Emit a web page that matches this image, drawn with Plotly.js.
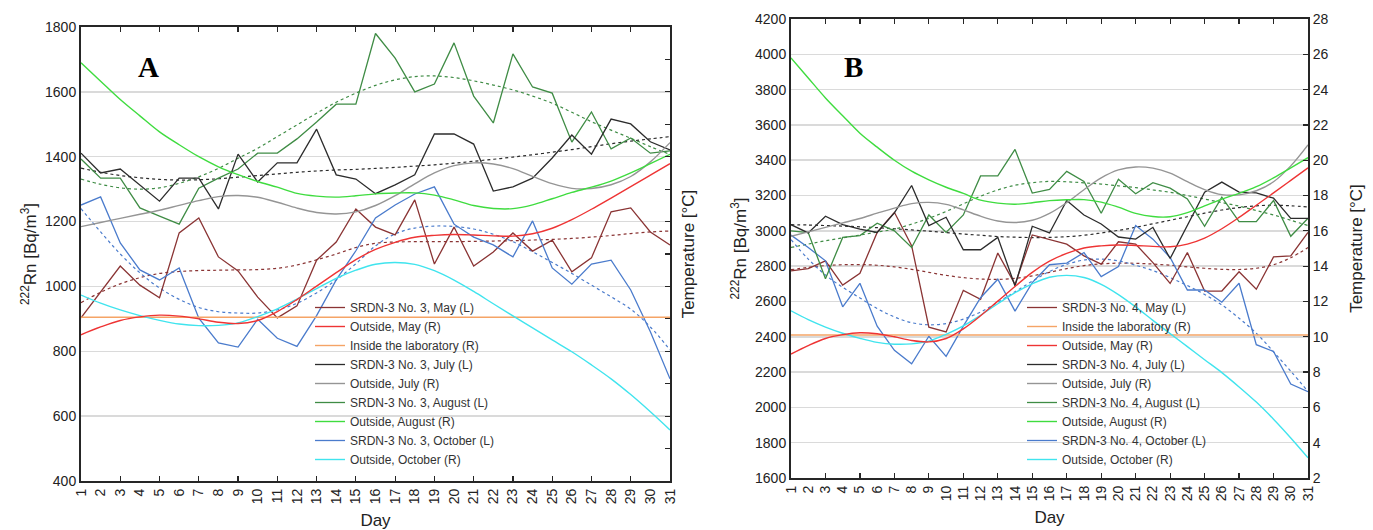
<!DOCTYPE html>
<html>
<head>
<meta charset="utf-8">
<script src="https://cdn.plot.ly/plotly-3.0.1.min.js"></script>
<style>
  html, body { margin: 0; padding: 0; background: #ffffff; }
  #chart { width: 1373px; height: 530px; }
</style>
</head>
<body>
<div id="chart"></div>
<script>
// Day of month (x axis of both panels)
const days = [1,2,3,4,5,6,7,8,9,10,11,12,13,14,15,16,17,18,19,20,21,22,23,24,25,26,27,28,29,30,31];

// ---- Panel A: SRDN-3 No. 3, 222Rn [Bq/m3] ----
const aMay = [903,983,1063,1004,965,1165,1211,1091,1048,967,903,940,1081,1137,1239,1183,1159,1267,1069,1183,1063,1106,1165,1109,1143,1045,1088,1230,1242,1168,1128];
const aJuly = [1411,1350,1362,1313,1263,1334,1334,1239,1408,1322,1381,1381,1485,1344,1331,1286,1313,1344,1470,1470,1439,1294,1307,1334,1396,1467,1408,1516,1501,1446,1421];
const aAug = [1393,1334,1334,1242,1217,1192,1303,1334,1362,1411,1411,1455,1507,1562,1562,1780,1704,1600,1624,1751,1587,1504,1717,1615,1596,1445,1538,1424,1458,1411,1418];
const aOct = [1251,1276,1134,1051,1020,1057,902,826,813,899,840,815,910,1020,1110,1211,1251,1285,1307,1192,1152,1128,1091,1202,1057,1007,1069,1081,989,860,715];
// Panel A: fitted trends (dotted)
const aMayFit = [950,982,1008,1027,1040,1046,1049,1050,1051,1052,1056,1066,1082,1100,1120,1133,1137,1138,1138,1138,1139,1140,1141,1143,1145,1148,1152,1157,1163,1168,1171];
const aJulyFit = [1365,1352,1342,1335,1330,1328,1329,1332,1337,1342,1347,1352,1356,1359,1361,1364,1367,1371,1375,1380,1386,1392,1399,1406,1414,1422,1431,1440,1448,1455,1462];
const aAugFit = [1331,1315,1304,1300,1304,1318,1338,1364,1395,1426,1462,1498,1534,1568,1596,1620,1637,1647,1649,1644,1634,1621,1606,1587,1565,1537,1508,1482,1457,1431,1407];
const aOctFit = [1240,1168,1100,1042,995,960,935,922,918,918,928,948,980,1020,1070,1125,1162,1180,1186,1185,1177,1161,1138,1107,1074,1040,1004,968,930,875,804];

// ---- Panel B: SRDN-3 No. 4, 222Rn [Bq/m3] ----
const bMay = [2773,2786,2830,2693,2760,2991,3105,2916,2454,2427,2663,2612,2874,2697,2977,2953,2925,2858,2811,2938,2925,2820,2702,2877,2659,2659,2768,2669,2852,2858,2991];
const bJuly = [3035,2988,3083,3035,3010,2991,3102,3257,3030,3077,2893,2893,2963,2688,3026,2988,3172,3090,3039,2965,2953,3020,2843,3030,3219,3276,3219,3215,3185,3071,3071];
const bAug = [3000,2990,2729,2963,2973,3043,3000,2906,3090,2991,3090,3311,3311,3461,3214,3235,3337,3280,3100,3292,3210,3273,3242,3181,3026,3191,3052,3052,3172,2969,3071];
const bOct = [2976,2906,2830,2570,2703,2460,2323,2247,2403,2289,2460,2621,2726,2545,2707,2808,2817,2877,2741,2798,3030,2953,2849,2665,2665,2596,2703,2355,2317,2132,2089];
// Panel B: fitted trends (dotted)
const bMayFit = [2780,2793,2803,2808,2809,2805,2796,2782,2765,2748,2735,2727,2725,2731,2745,2765,2786,2803,2813,2817,2816,2812,2805,2796,2788,2782,2781,2788,2808,2848,2905];
const bJulyFit = [3035,3033,3030,3027,3023,3018,3012,3005,2998,2990,2982,2975,2968,2964,2962,2963,2967,2975,2988,3003,3020,3040,3060,3080,3100,3118,3132,3142,3145,3142,3135];
const bAugFit = [2906,2925,2944,2960,2976,2993,3010,3038,3071,3110,3153,3196,3232,3258,3273,3280,3278,3272,3265,3255,3245,3232,3218,3200,3180,3160,3140,3115,3090,3060,3030];
const bOctFit = [2950,2840,2750,2680,2620,2560,2512,2480,2468,2475,2500,2540,2595,2655,2715,2770,2810,2835,2840,2830,2805,2775,2735,2690,2640,2580,2505,2420,2315,2205,2090];

// ---- Air temperature [°C] (right axis, same in both panels) ----
const tOutMay = [9.02,9.5,9.9,10.12,10.23,10.17,10.0,9.79,9.71,9.9,10.45,11.19,12.02,12.85,13.65,14.28,14.72,15.03,15.15,15.2,15.17,15.12,15.1,15.25,15.59,16.12,16.76,17.45,18.15,18.86,19.57];
const tOutJuly = [15.69,15.94,16.2,16.45,16.7,17.0,17.29,17.54,17.61,17.5,17.19,16.83,16.56,16.47,16.6,16.99,17.6,18.33,19.0,19.45,19.62,19.55,19.27,18.79,18.34,18.05,18.04,18.27,18.78,19.68,20.87];
const tOutAug = [25.8,24.66,23.53,22.52,21.53,20.74,20.0,19.38,18.89,18.47,18.12,17.74,17.57,17.51,17.59,17.71,17.76,17.77,17.63,17.34,16.99,16.81,16.8,17.03,17.41,17.8,18.12,18.5,19.0,19.57,20.15];
const tOutOct = [11.47,10.97,10.55,10.2,9.91,9.68,9.58,9.6,9.75,10.14,10.62,11.22,11.87,12.5,13.0,13.37,13.48,13.36,12.97,12.39,11.69,10.93,10.18,9.44,8.7,7.97,7.16,6.3,5.33,4.27,3.15];
const tInside = [10.1,10.1,10.1,10.1,10.1,10.1,10.1,10.1,10.1,10.1,10.1,10.1,10.1,10.1,10.1,10.1,10.1,10.1,10.1,10.1,10.1,10.1,10.1,10.1,10.1,10.1,10.1,10.1,10.1,10.1,10.1];

const C = {
  may: '#8a3434', outMay: '#ee3434', inside: '#f5a466',
  july: '#2c2c2c', outJuly: '#959595',
  aug: '#3f8c45', outAug: '#3fdc3f',
  oct: '#4a7bcc', outOct: '#40e4ee'
};

function measured(y, name, color, xa, ya, legend, rank) {
  return { type: 'scatter', mode: 'lines', x: days, y: y, name: name, xaxis: xa, yaxis: ya,
           legend: legend, legendrank: rank, line: { color: color, width: 1.3 }, hoverinfo: 'skip' };
}
function smooth(y, name, color, xa, ya, legend, rank) {
  return { type: 'scatter', mode: 'lines', x: days, y: y, name: name, xaxis: xa, yaxis: ya,
           legend: legend, legendrank: rank, line: { color: color, width: 1.4, shape: 'spline', smoothing: 1 },
           hoverinfo: 'skip' };
}
function trend(y, color, xa, ya) {
  return { type: 'scatter', mode: 'lines', x: days, y: y, xaxis: xa, yaxis: ya, showlegend: false,
           line: { color: color, width: 1.2, dash: 'dot', shape: 'spline', smoothing: 1 }, hoverinfo: 'skip' };
}

const traces = [
  // Panel A
  trend(aMayFit, C.may, 'x', 'y'), trend(aJulyFit, C.july, 'x', 'y'),
  trend(aAugFit, C.aug, 'x', 'y'), trend(aOctFit, C.oct, 'x', 'y'),
  smooth(tInside, 'Inside the laboratory (R)', C.inside, 'x', 'y2', 'legend', 3),
  smooth(tOutJuly, 'Outside, July (R)', C.outJuly, 'x', 'y2', 'legend', 5),
  smooth(tOutAug, 'Outside, August (R)', C.outAug, 'x', 'y2', 'legend', 7),
  smooth(tOutOct, 'Outside, October (R)', C.outOct, 'x', 'y2', 'legend', 9),
  smooth(tOutMay, 'Outside, May (R)', C.outMay, 'x', 'y2', 'legend', 2),
  measured(aMay, 'SRDN-3 No. 3, May (L)', C.may, 'x', 'y', 'legend', 1),
  measured(aOct, 'SRDN-3 No. 3, October (L)', C.oct, 'x', 'y', 'legend', 8),
  measured(aAug, 'SRDN-3 No. 3, August (L)', C.aug, 'x', 'y', 'legend', 6),
  measured(aJuly, 'SRDN-3 No. 3, July (L)', C.july, 'x', 'y', 'legend', 4),
  // Panel B
  trend(bMayFit, C.may, 'x2', 'y3'), trend(bJulyFit, C.july, 'x2', 'y3'),
  trend(bAugFit, C.aug, 'x2', 'y3'), trend(bOctFit, C.oct, 'x2', 'y3'),
  smooth(tInside, 'Inside the laboratory (R)', C.inside, 'x2', 'y4', 'legend2', 2),
  smooth(tOutJuly, 'Outside, July (R)', C.outJuly, 'x2', 'y4', 'legend2', 5),
  smooth(tOutAug, 'Outside, August (R)', C.outAug, 'x2', 'y4', 'legend2', 7),
  smooth(tOutOct, 'Outside, October (R)', C.outOct, 'x2', 'y4', 'legend2', 9),
  smooth(tOutMay, 'Outside, May (R)', C.outMay, 'x2', 'y4', 'legend2', 3),
  measured(bMay, 'SRDN-3 No. 4, May (L)', C.may, 'x2', 'y3', 'legend2', 1),
  measured(bOct, 'SRDN-3 No. 4, October (L)', C.oct, 'x2', 'y3', 'legend2', 8),
  measured(bAug, 'SRDN-3 No. 4, August (L)', C.aug, 'x2', 'y3', 'legend2', 6),
  measured(bJuly, 'SRDN-3 No. 4, July (L)', C.july, 'x2', 'y3', 'legend2', 4),
  // empty traces that carry the every-second-day tick axes
  { type: 'scatter', x: [], y: [], xaxis: 'x3', yaxis: 'y', showlegend: false, hoverinfo: 'skip' },
  { type: 'scatter', x: [], y: [], xaxis: 'x4', yaxis: 'y3', showlegend: false, hoverinfo: 'skip' }
];

const AX = '#262626';
const GRID = '#dadada';
const W = 1373, H = 530;
const domA = [81 / W, 670 / W], domB = [791 / W, 1308 / W];
const vdomA = [1 - 481 / H, 1 - 27 / H], vdomB = [1 - 478 / H, 1 - 19 / H];

function dayAxis(domain, anchor) {
  return { domain: domain, anchor: anchor, range: [1, 31], tickmode: 'array', tickvals: days,
           ticks: '', tickangle: -90, tickfont: { size: 14, color: '#222' },
           showline: true, mirror: true, linecolor: AX, linewidth: 2,
           showgrid: false, zeroline: false, title: { text: 'Day', font: { size: 17, color: '#222' }, standoff: 11 } };
}
function tickAxis(over, anchor) {
  return { overlaying: over, anchor: anchor, side: 'bottom', range: [1, 31], tick0: 1, dtick: 2,
           ticks: 'inside', ticklen: 5, tickwidth: 1.2, tickcolor: AX, showticklabels: false,
           mirror: 'ticks', showline: false, showgrid: false, zeroline: false };
}

const layout = {
  width: W, height: H, margin: { l: 0, r: 0, t: 0, b: 0 },
  paper_bgcolor: '#ffffff', plot_bgcolor: '#ffffff',
  font: { family: 'Arial, "Liberation Sans", sans-serif', color: '#222', size: 14 },
  showlegend: true,
  xaxis: dayAxis(domA, 'y'),
  xaxis2: dayAxis(domB, 'y3'),
  xaxis3: tickAxis('x', 'y'),
  xaxis4: tickAxis('x2', 'y3'),
  yaxis: { domain: vdomA, anchor: 'x', range: [400, 1800], dtick: 200, ticks: '',
           tickfont: { size: 14, color: '#222' }, showgrid: true, gridcolor: GRID, gridwidth: 1.5,
           showline: true, linecolor: AX, linewidth: 2, zeroline: false,
           title: { text: '<sup>222</sup>Rn [Bq/m<sup>3</sup>]', font: { size: 17, color: '#222' } } },
  yaxis2: { overlaying: 'y', side: 'right', anchor: 'x', range: [0, 28], dtick: 2,
            ticks: 'inside', ticklen: 5, tickwidth: 1.2, tickcolor: AX, showticklabels: false,
            showgrid: false, showline: true, linecolor: AX, linewidth: 2, zeroline: false,
            title: { text: 'Temperature [°C]', font: { size: 17, color: '#222' }, standoff: 11 } },
  yaxis3: { domain: vdomB, anchor: 'x2', range: [1600, 4200], dtick: 200, ticks: '',
            tickfont: { size: 14, color: '#222' }, showgrid: true, gridcolor: GRID, gridwidth: 1.5,
            showline: true, linecolor: AX, linewidth: 2, zeroline: false,
            title: { text: '<sup>222</sup>Rn [Bq/m<sup>3</sup>]', font: { size: 17, color: '#222' } } },
  yaxis4: { overlaying: 'y3', side: 'right', anchor: 'x2', range: [2, 28], dtick: 2,
            ticks: 'inside', ticklen: 5, tickwidth: 1.2, tickcolor: AX,
            tickfont: { size: 14, color: '#222' },
            showgrid: false, showline: true, linecolor: AX, linewidth: 2, zeroline: false,
            title: { text: 'Temperature [°C]', font: { size: 17, color: '#222' } } },
  legend: { x: 310 / W, y: 1 - 293 / H, xanchor: 'left', yanchor: 'top', bgcolor: 'rgba(0,0,0,0)',
            font: { size: 12, color: '#333' }, tracegroupgap: 0, itemwidth: 30 },
  legend2: { x: 1022 / W, y: 1 - 293 / H, xanchor: 'left', yanchor: 'top', bgcolor: 'rgba(0,0,0,0)',
             font: { size: 12, color: '#333' }, tracegroupgap: 0, itemwidth: 30 },
  annotations: [
    { text: '<b>A</b>', xref: 'paper', yref: 'paper', x: 148 / W, y: 1 - 67 / H,
      xanchor: 'center', yanchor: 'middle', showarrow: false,
      font: { family: '"Liberation Serif", "Times New Roman", serif', size: 29, color: '#000' } },
    { text: '<b>B</b>', xref: 'paper', yref: 'paper', x: 853 / W, y: 1 - 67 / H,
      xanchor: 'center', yanchor: 'middle', showarrow: false,
      font: { family: '"Liberation Serif", "Times New Roman", serif', size: 29, color: '#000' } }
  ]
};

Plotly.newPlot('chart', traces, layout, { staticPlot: true, displayModeBar: false });
</script>
</body>
</html>
